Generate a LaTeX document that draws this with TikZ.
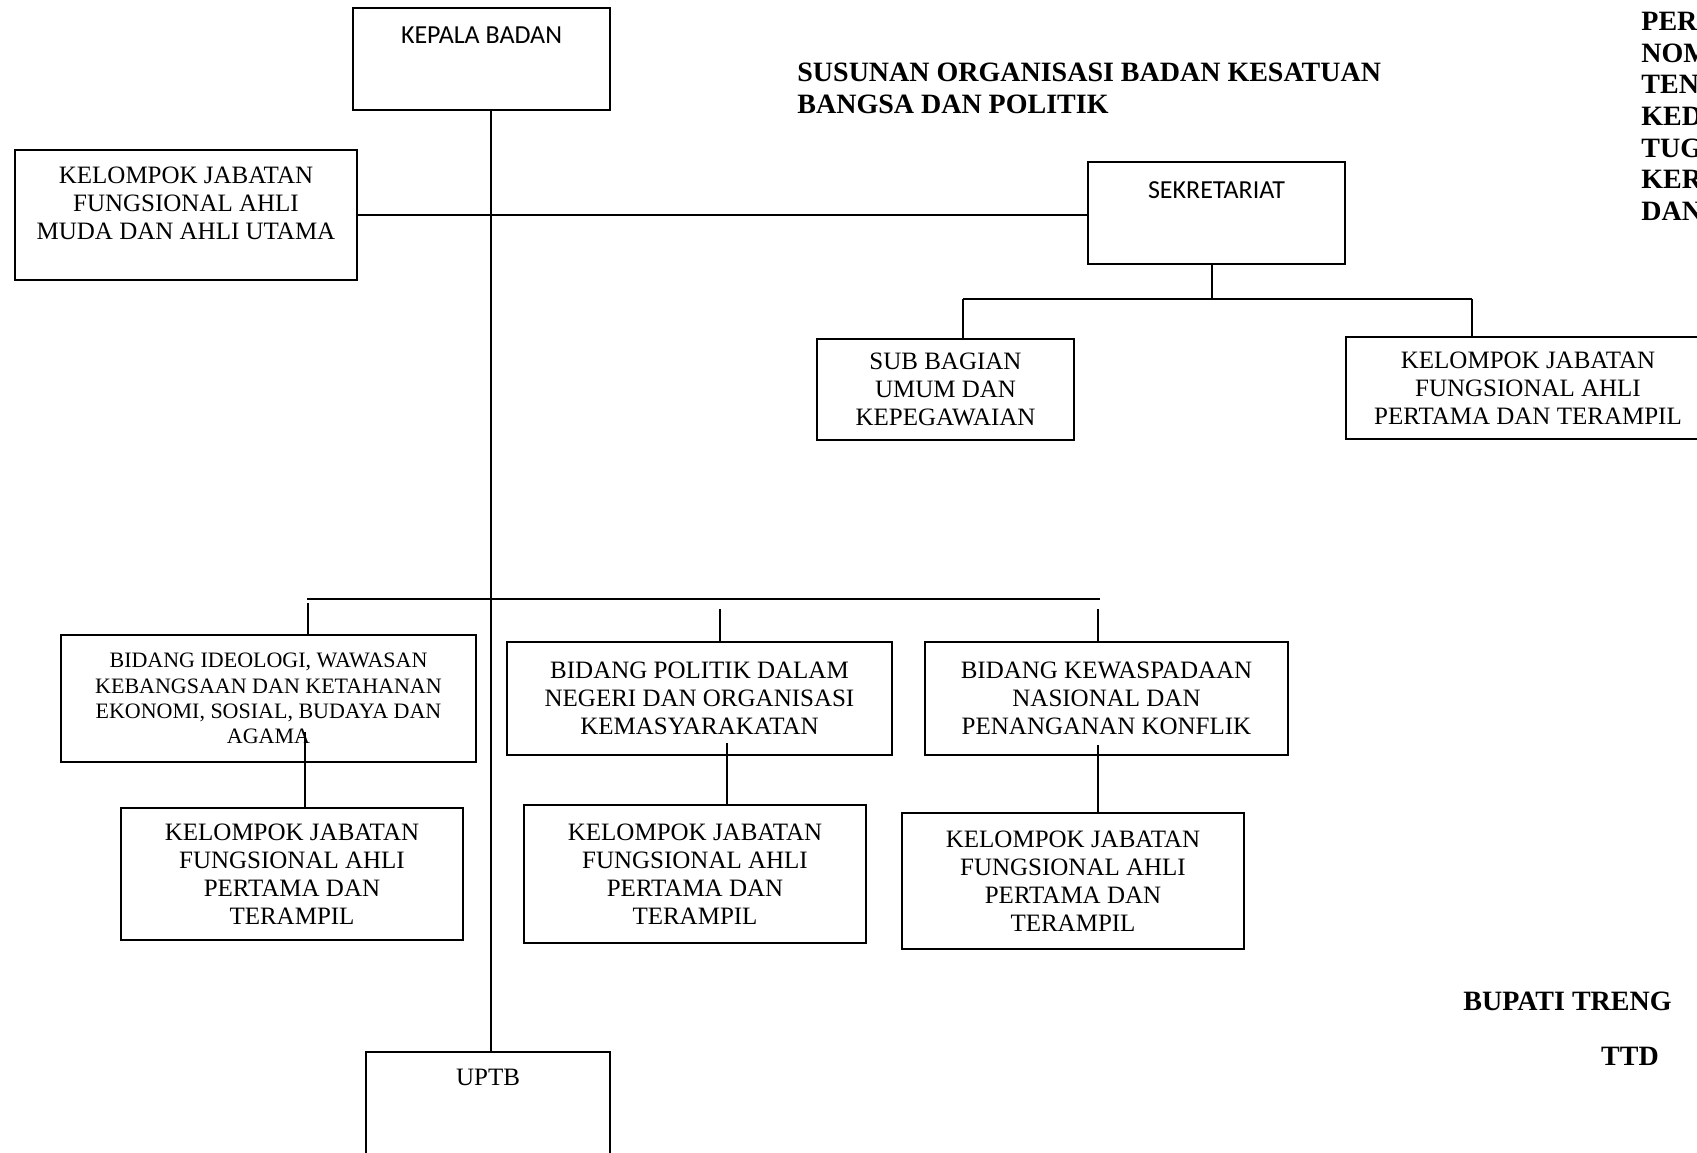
\documentclass[tikz,border=0pt]{standalone}
\usepackage{fontspec}
\setmainfont{Liberation Serif}
\newfontfamily\calibri{Carlito}

\tikzset{
    box/.style={draw, line width=1pt, align=center, inner sep=0pt, font=\fontsize{12.5}{14}\selectfont},
    headbox/.style={box, minimum width=128.5pt, minimum height=51pt, text depth=23pt, font=\calibri\fontsize{13}{15}\selectfont},
    smallbox/.style={box, font=\fontsize{11}{12.6}\selectfont},
    jfbox/.style={box, minimum width=171pt},
    link/.style={line width=0.8pt},
    heading/.style={font=\bfseries\fontsize{14}{15.8}\selectfont, align=left, inner sep=0pt}
}

\begin{document}
\begin{tikzpicture}[x=0.5pt, y=-0.5pt]
    \useasboundingbox (0,0) rectangle (1697,1152);
    \clip (0,0) rectangle (1697,1152);

    % kepala, sekretariat
    \node[headbox] (kepala) at (481.5,58.5) {KEPALA BADAN};
    \node[jfbox, minimum height=65pt, text depth=12pt] (jfmuda) at (186,215) {KELOMPOK JABATAN\\FUNGSIONAL AHLI\\MUDA DAN AHLI UTAMA};
    \node[headbox] (sekre) at (1216.5,213) {SEKRETARIAT};
    \node[box, minimum width=128.5pt, minimum height=50.5pt] (subbag) at (945.5,389.5) {SUB BAGIAN\\UMUM DAN\\KEPEGAWAIAN};
    \node[box, minimum width=182pt, minimum height=51pt] (jfsek) at (1528,388) {KELOMPOK JABATAN\\FUNGSIONAL AHLI\\PERTAMA DAN TERAMPIL};

    % bidang
    \node[smallbox, minimum width=207.5pt, minimum height=63.5pt] (ideo) at (268.5,698.5) {BIDANG IDEOLOGI, WAWASAN\\KEBANGSAAN DAN KETAHANAN\\EKONOMI, SOSIAL, BUDAYA DAN\\AGAMA};
    \node[box, minimum width=192.5pt, minimum height=56.5pt] (polda) at (699.5,698.5) {BIDANG POLITIK DALAM\\NEGERI DAN ORGANISASI\\KEMASYARAKATAN};
    \node[box, minimum width=181.5pt, minimum height=56.5pt] (kewas) at (1106.5,698.5) {BIDANG KEWASPADAAN\\NASIONAL DAN\\PENANGANAN KONFLIK};
    \node[jfbox, minimum height=66pt] (jfideo) at (292,874) {KELOMPOK JABATAN\\FUNGSIONAL AHLI\\PERTAMA DAN\\TERAMPIL};
    \node[jfbox, minimum height=69pt] (jfpolda) at (695,874) {KELOMPOK JABATAN\\FUNGSIONAL AHLI\\PERTAMA DAN\\TERAMPIL};
    \node[jfbox, minimum height=68pt] (jfkewas) at (1073,881) {KELOMPOK JABATAN\\FUNGSIONAL AHLI\\PERTAMA DAN\\TERAMPIL};
    \node[headbox, minimum width=122pt, text depth=26pt, font=\fontsize{12.5}{14}\selectfont] (uptb) at (488,1103) {UPTB};

    % garis
    \coordinate (spine) at (491,0);
    \draw[link] (spine |- kepala.south) -- (spine |- uptb.north);
    \draw[link] (jfmuda.east) -- (jfmuda.east -| sekre.west);

    \coordinate (sekdrop) at (1212,299);
    \coordinate (sbl) at (963,299);
    \coordinate (sbr) at (1472,299);
    \draw[link] (sekdrop |- sekre.south) -- (sekdrop);
    \draw[link] (sbl) -- (sbr);
    \draw[link] (sbl) -- (sbl |- subbag.north);
    \draw[link] (sbr) -- (sbr |- jfsek.north);

    \coordinate (barl) at (307,599);
    \coordinate (barr) at (1100,599);
    \draw[link] (barl) -- (barr);
    \coordinate (dideo) at (308,603);
    \coordinate (dpolda) at (720,609);
    \coordinate (dkewas) at (1098,609);
    \draw[link] (dideo) -- (dideo |- ideo.north);
    \draw[link] (dpolda) -- (dpolda |- polda.north);
    \draw[link] (dkewas) -- (dkewas |- kewas.north);

    \coordinate (kideo) at (305,732);
    \coordinate (kpolda) at (727,743);
    \coordinate (kkewas) at (1098,745);
    \draw[link] (kideo) -- (kideo |- jfideo.north);
    \draw[link] (kpolda) -- (kpolda |- jfpolda.north);
    \draw[link] (kkewas) -- (kkewas |- jfkewas.north);

    % judul
    \node[heading, anchor=north west] (judul) at (797,63) {SUSUNAN ORGANISASI BADAN KESATUAN\\BANGSA DAN POLITIK};
    \node[heading, anchor=north west] (perbup) at (1641,12) {PER\\NOM\\TEN\\KED\\TUG\\KER\\DAN};
    \node[heading, anchor=west] (bupati) at (1463,1001) {BUPATI TRENG};
    \node[heading] (ttd) at (1630,1056) {TTD};
\end{tikzpicture}
\end{document}
